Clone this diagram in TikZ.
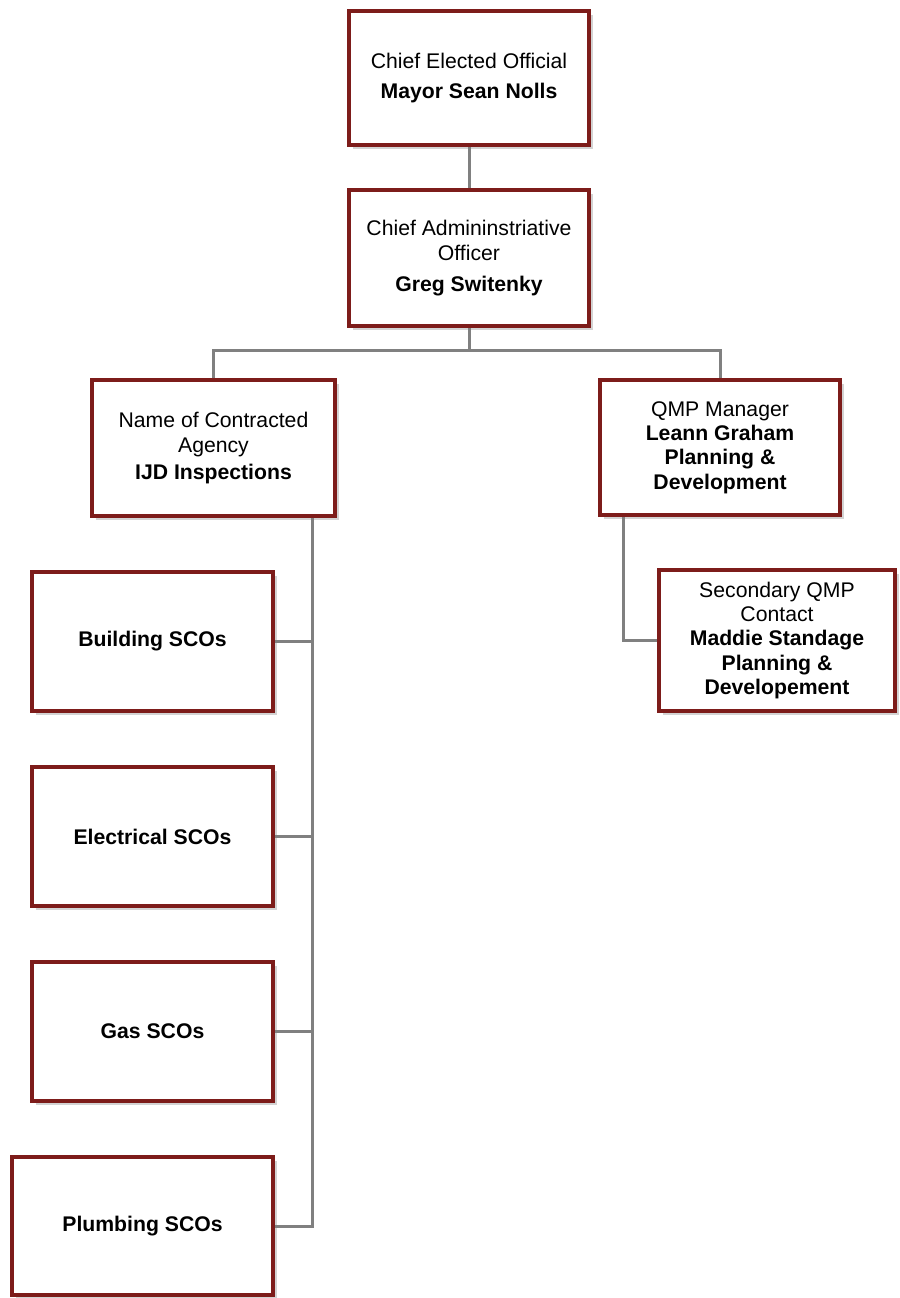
\documentclass[tikz,border=0pt]{standalone}
\usepackage{fontspec}
\setmainfont{Liberation Sans}
\usetikzlibrary{shadows, backgrounds}
\definecolor{boxred}{RGB}{125,28,26}
\definecolor{linegray}{RGB}{128,128,128}
\tikzset{
  orgbox/.style={draw=boxred, line width=3pt, fill=white, align=center,
    inner sep=0pt, minimum width=180pt, minimum height=102pt,
    font=\fontsize{15.9}{18.2}\selectfont,
    drop shadow={shadow xshift=3pt, shadow yshift=-3pt, opacity=0.35}},
  conn/.style={draw=linegray, line width=2.25pt}
}
\begin{document}
\begin{tikzpicture}[x=0.75pt,y=-0.75pt]
\useasboundingbox (0,0) rectangle (899,1298);
\node[orgbox, minimum height=100.5pt] (M) at (469,78) {Chief Elected Official\\[5pt]\textbf{Mayor Sean Nolls}};
\node[orgbox] (C) at (469,258) {Chief Admininstriative\\Officer\\[5pt]\textbf{Greg Switenky}};
\node[orgbox, minimum width=182pt] (A) at (213.5,448) {Name of Contracted\\Agency\\[2pt]\textbf{IJD Inspections}};
\node[orgbox, minimum height=101pt] (Q) at (720,447.5) {QMP Manager\\\textbf{Leann Graham}\\\textbf{Planning \&}\\\textbf{Development}};
\node[orgbox, minimum width=177pt, minimum height=106pt] (S) at (777,640.5) {Secondary QMP\\Contact\\\textbf{Maddie Standage}\\\textbf{Planning \&}\\\textbf{Developement}};
\node[orgbox, minimum width=181pt, minimum height=104pt] (B) at (152.5,641.5) {\textbf{Building SCOs}};
\node[orgbox, minimum width=181pt, minimum height=104pt] (E) at (152.5,836.5) {\textbf{Electrical SCOs}};
\node[orgbox, minimum width=181pt, minimum height=104pt] (G) at (152.5,1031.5) {\textbf{Gas SCOs}};
\node[orgbox, minimum width=196pt, minimum height=103.5pt] (P) at (142.5,1226) {\textbf{Plumbing SCOs}};
\coordinate (bus) at (469,350);
\coordinate (trunk) at (A.south -| 312,0);
\begin{scope}[on background layer]
\draw[conn] (M.south) -- (C.south |- M.south) -- (C.north);
\draw[conn] (C.south) -- (bus) -| (A.north);
\draw[conn] (bus) -| (Q.north);
\draw[conn] (Q.south -| 623,0) |- (S.west);
\draw[conn] (trunk) |- (P.east);
\foreach \n in {B,E,G}
  \draw[conn] (\n.east) -- (\n.east -| trunk);
\end{scope}
\end{tikzpicture}
\end{document}
